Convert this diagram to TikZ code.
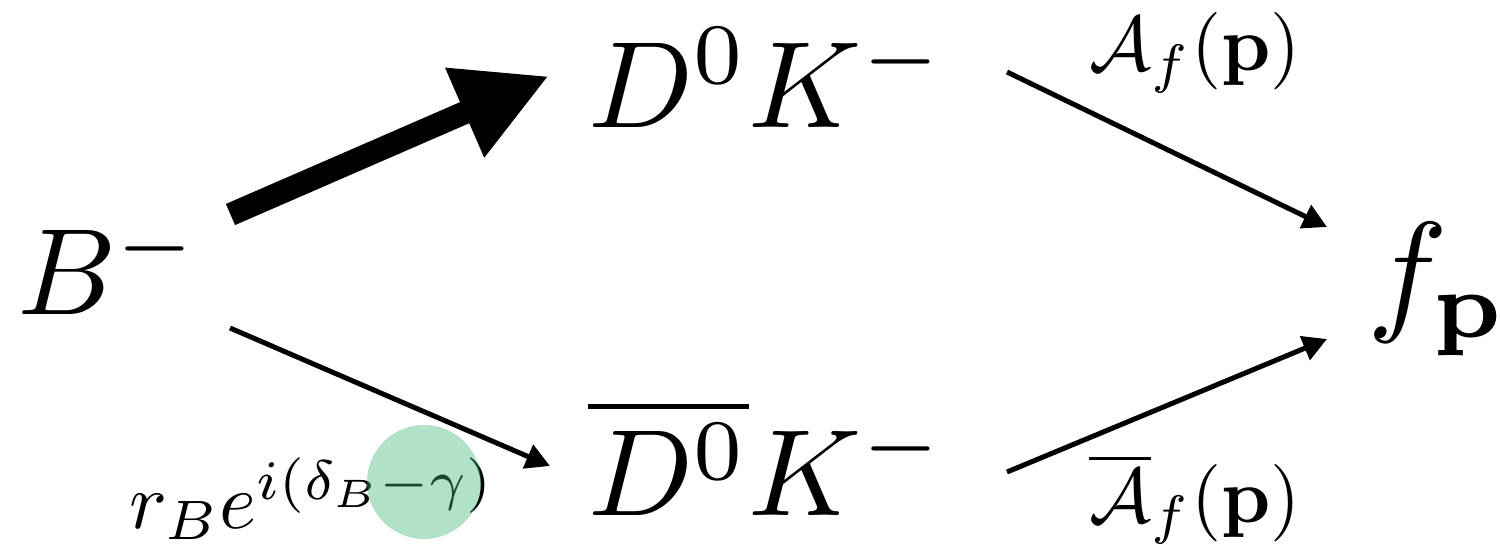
\documentclass[tikz,border=0pt]{standalone}
\usepackage{graphicx}
\usetikzlibrary{arrows.meta}
\definecolor{circgreen}{RGB}{60,179,113}
\newcommand{\BigMath}[1]{\scalebox{6.15}{$#1$}}
\newcommand{\HugeMath}[1]{\scalebox{6.75}{$#1$}}
\newcommand{\LblMath}[1]{\scalebox{3.87}{$#1$}}
\newcommand{\PhaseMath}[1]{\scalebox{3.97}{$#1$}}
\begin{document}
\begin{tikzpicture}[x=0.5pt,y=-0.5pt,
  lbl/.style={inner sep=0pt, anchor=base west},
  thinarrow/.style={line width=2.5pt, -{Triangle[length=12pt,width=12.5pt]}},
  thickarrow/.style={line width=11.5pt, -{Triangle[length=46pt,width=45.5pt]}},
  highlight/.style={circle, fill=circgreen, fill opacity=0.4, minimum size=57pt, inner sep=0pt}]
\useasboundingbox (0,0) rectangle (1500,545);
\node[lbl] (B) at (17,315) {\BigMath{B^-}};
\node[lbl] (DK) at (588,128) {\BigMath{D^0K^-}};
\node[lbl] (DbK) at (588,515) {\BigMath{\overline{D^0}K^-}};
\node[lbl] (fp) at (1367,317) {\HugeMath{f_{\mathbf p}}};
\node[lbl] (Af) at (1089,71) {\LblMath{\mathcal{A}_f(\mathbf{p})}};
\node[lbl] (Abf) at (1089,522) {\LblMath{\overline{\mathcal{A}}_f(\mathbf{p})}};
\node[lbl] (rb) at (129,528) {\PhaseMath{r_Be^{i(\delta_B-\gamma)}}};
\node[highlight] (hl) at (424,482) {};
\coordinate (Bup) at (230.5,214.5);
\coordinate (DKin) at (549,76);
\coordinate (Bdown) at (230,328);
\coordinate (DbKin) at (550,466);
\coordinate (DKout) at (1007,72);
\coordinate (fpin1) at (1327,227);
\coordinate (DbKout) at (1007,472);
\coordinate (fpin2) at (1327,339);
\draw[thickarrow] (Bup) -- (DKin);
\draw[thinarrow] (Bdown) -- (DbKin);
\draw[thinarrow] (DKout) -- (fpin1);
\draw[thinarrow] (DbKout) -- (fpin2);
\end{tikzpicture}
\end{document}
